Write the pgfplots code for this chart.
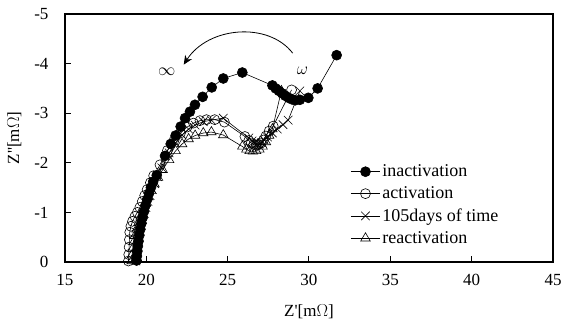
\documentclass[border=0pt]{standalone}
\usepackage{fontspec}
\setmainfont{Liberation Serif}
\usepackage{pgfplots}
\pgfplotsset{compat=1.18}
\usetikzlibrary{arrows.meta,calc}
\begin{document}
\begin{tikzpicture}
\begin{axis}[
  scale only axis, width=488pt, height=248pt,
  xmin=15, xmax=45, ymin=-5, ymax=0, y dir=reverse,
  xtick={15,20,...,45}, ytick={-5,-4,...,0},
  tick align=inside, xtick pos=bottom, ytick pos=left,
  major tick length=6pt, tick style={line width=1pt, black},
  axis line style={line width=1.2pt},
  /pgf/number format/assume math mode=true,
  tick label style={font=\fontsize{17}{20}\selectfont},
  yticklabel style={xshift=-13pt},
  xticklabel style={yshift=-9pt},
  label style={font=\fontsize{17}{20}\selectfont},
  xlabel={Z\textquotesingle[m$\Omega$]}, ylabel={Z\textquotesingle\textquotesingle[m$\Omega$]},
  xlabel style={yshift=-12pt}, ylabel style={yshift=6pt},
  legend style={draw=none, fill=none, at={(0.585,0.40)}, anchor=north west,
    inner sep=0pt, font=\fontsize{18}{21}\selectfont, row sep=4.5pt},
  legend cell align=left,
  legend image code/.code={\draw[mark repeat=2, mark phase=2] plot coordinates {(0pt,0pt)(14.5pt,0pt)(29pt,0pt)};},
  every axis plot/.append style={black, line width=0.6pt},
]
\addplot[mark=*, mark size=5pt, mark options={fill=black}] coordinates {
(19.40,-0.03)(19.42,-0.12)(19.45,-0.22)(19.48,-0.32)(19.52,-0.42)(19.57,-0.54)
(19.63,-0.66)(19.70,-0.78)(19.78,-0.90)(19.86,-1.02)(19.95,-1.14)(20.05,-1.26)
(20.16,-1.38)(20.28,-1.50)(20.42,-1.62)(20.64,-1.75)(21.15,-2.14)(21.50,-2.38)
(21.80,-2.55)(22.11,-2.73)(22.38,-2.90)(22.68,-3.03)(22.99,-3.17)(23.46,-3.33)
(24.02,-3.52)(24.73,-3.70)(25.90,-3.82)(27.75,-3.56)(27.95,-3.50)(28.15,-3.45)
(28.35,-3.40)(28.55,-3.35)(28.75,-3.31)(28.95,-3.28)(29.15,-3.26)(29.44,-3.27)
(29.96,-3.31)(30.53,-3.50)(31.70,-4.17)};
\addlegendentry{inactivation}
\addplot[mark=o, mark size=5pt] coordinates {
(18.90,-0.02)(18.92,-0.15)(18.94,-0.30)(18.96,-0.45)(18.98,-0.60)(19.05,-0.72)
(19.15,-0.82)(19.30,-0.92)(19.45,-1.00)(19.60,-1.10)(19.75,-1.22)(19.90,-1.34)
(20.05,-1.46)(20.25,-1.60)(20.45,-1.74)(20.84,-1.96)(21.30,-2.25)(21.70,-2.45)
(22.10,-2.60)(22.50,-2.72)(22.90,-2.80)(23.30,-2.85)(23.70,-2.87)(24.20,-2.87)
(24.80,-2.82)(26.06,-2.53)(26.30,-2.45)(26.45,-2.40)(26.60,-2.37)(26.75,-2.36)
(26.90,-2.37)(27.05,-2.40)(27.20,-2.46)(27.35,-2.54)(27.55,-2.64)(27.80,-2.74)
(28.93,-3.47)};
\addlegendentry{activation}
\addplot[mark=x, mark size=6pt] coordinates {
(19.35,-0.02)(19.38,-0.12)(19.42,-0.25)(19.47,-0.38)(19.53,-0.50)(19.60,-0.62)
(19.68,-0.74)(19.77,-0.86)(19.87,-0.98)(19.98,-1.10)(20.10,-1.22)(20.23,-1.34)
(20.37,-1.46)(20.52,-1.58)(20.70,-1.72)(20.95,-1.90)(21.40,-2.20)(21.80,-2.40)
(22.20,-2.56)(22.60,-2.68)(23.00,-2.76)(23.50,-2.83)(24.00,-2.86)(24.73,-2.90)
(26.30,-2.50)(26.50,-2.44)(26.65,-2.40)(26.80,-2.38)(26.95,-2.38)(27.10,-2.41)
(27.25,-2.46)(27.45,-2.52)(27.75,-2.60)(28.05,-2.68)(28.40,-2.77)(28.72,-2.86)
(29.44,-3.45)};
\addlegendentry{105days of time}
\addplot[mark=triangle, mark size=5.5pt] coordinates {
(19.10,-0.02)(19.12,-0.14)(19.16,-0.27)(19.22,-0.40)(19.30,-0.53)(19.40,-0.66)
(19.52,-0.79)(19.65,-0.92)(19.80,-1.05)(19.95,-1.18)(20.12,-1.31)(20.30,-1.44)
(20.50,-1.57)(20.72,-1.70)(21.00,-1.86)(21.40,-2.06)(21.80,-2.24)(22.20,-2.38)
(22.60,-2.48)(23.00,-2.55)(23.50,-2.60)(24.00,-2.62)(24.73,-2.56)(25.90,-2.33)
(26.15,-2.27)(26.35,-2.24)(26.55,-2.23)(26.75,-2.24)(26.95,-2.27)(27.15,-2.33)
(27.35,-2.42)(27.55,-2.55)(27.75,-2.68)(28.30,-3.45)};
\addlegendentry{reactivation}
\draw[-{Stealth[length=9pt,width=8pt]}, line width=0.8pt] (axis cs:29.0,-4.21) .. controls (axis cs:27.5,-4.85) and (axis cs:23.8,-4.75) .. (axis cs:22.3,-3.98);
\node[font=\fontsize{17}{20}\selectfont] at (axis cs:21.25,-3.83) {$\infty$};
\node[font=\fontsize{17}{20}\selectfont] at (axis cs:29.6,-3.85) {$\omega$};
\end{axis}
\pgfresetboundingbox
\path ($(current axis.south west)+(-65pt,-64pt)$) rectangle ($(current axis.north east)+(10pt,14pt)$);
\end{tikzpicture}
\end{document}
